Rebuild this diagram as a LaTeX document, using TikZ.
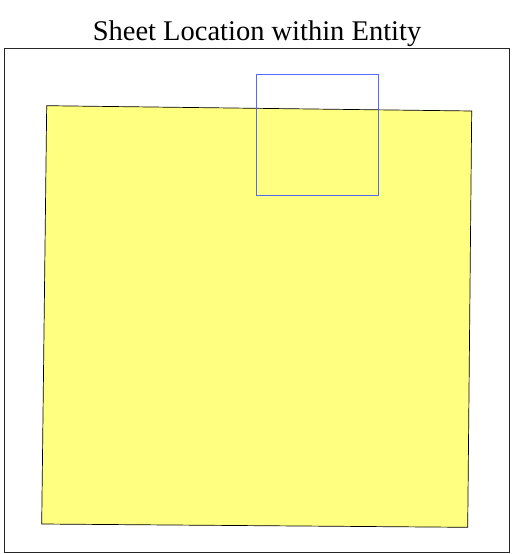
\documentclass[tikz,border=0pt]{standalone}
\usepackage{fontspec}
\setmainfont{Liberation Serif}
\usetikzlibrary{positioning}
\definecolor{sheetyellow}{HTML}{FFFF80}
\definecolor{viewblue}{HTML}{5569FF}
\tikzset{
  entity frame/.style={draw=black!85, line width=0.9pt},
  sheet/.style={draw=black, fill=sheetyellow, line width=0.7pt},
  view box/.style={draw=viewblue, line width=0.9pt},
  title/.style={font=\fontsize{28.5}{32}\selectfont, anchor=base}
}
\begin{document}
\begin{tikzpicture}[x=1pt, y=-1pt]
  \useasboundingbox (0,0) rectangle (518,554);
  % title
  \node (title) [title] at (257,40) {Sheet Location within Entity};
  % entity border
  \draw [entity frame] (4.5,48) rectangle (509,552);
  % sheet outline
  \coordinate (s1) at (46.7,105.7);
  \coordinate (s2) at (471.7,111);
  \coordinate (s3) at (467.7,527.3);
  \coordinate (s4) at (41.7,524);
  \draw [sheet] (s1) -- (s2) -- (s3) -- (s4) -- cycle;
  % visible region
  \draw [view box] (256.7,74) rectangle (378,195.3);
\end{tikzpicture}
\end{document}
